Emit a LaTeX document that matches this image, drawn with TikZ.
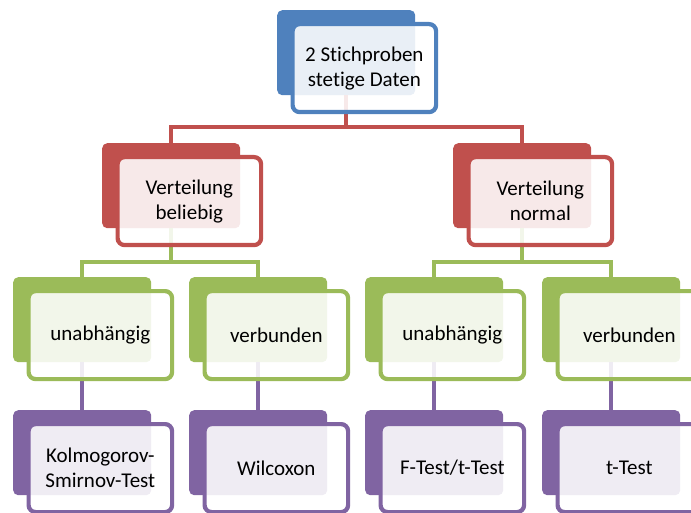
\documentclass[tikz,border=0pt]{standalone}
\usepackage{fontspec}
\setmainfont{Carlito}[Ligatures=NoCommon]
\usepackage{tikz}
\usetikzlibrary{positioning}

\definecolor{ablue}{HTML}{4F81BD}
\definecolor{ared}{HTML}{C0504D}
\definecolor{agreen}{HTML}{9BBB59}
\definecolor{apurple}{HTML}{8064A2}

\begin{document}
\begin{tikzpicture}[x=1pt, y=-1pt, node distance=12pt and 13.5pt,
  back/.style = {fill=#1, rounded corners=5pt, inner sep=0pt, anchor=north west,
                 minimum width=138pt, minimum height=85pt},
  front/.style = {draw=#1, line width=4.2pt, rounded corners=7pt, fill=white,
                  fill opacity=0.88, text opacity=1, align=center, inner sep=0pt,
                  minimum width=143.5pt, minimum height=88pt,
                  font=\fontsize{21}{25}\selectfont},
  link/.style = {draw=#1, line width=4pt}]
\clip (0,0) rectangle (691,513);

% back boxes
\node[back=ablue] (top) at (277,10) {};
\node[back=ared] (bel) at (102,143) {};
\node[back=ared] (nor) at (453,143) {};
\node[back=agreen] (belu) at (13,277) {};
\node[back=agreen] (belv) at (189,277) {};
\node[back=agreen] (noru) at (365,277) {};
\node[back=agreen] (norv) at (542,277) {};
\node[back=apurple] (ks) at (13,410) {};
\node[back=apurple] (wil) at (189,410) {};
\node[back=apurple] (ft) at (365,410) {};
\node[back=apurple] (tt) at (542,410) {};

% connectors
\draw[link=ared] (top.south) -- ++(0,32) -| (bel.north);
\draw[link=ared] (top.south) -- ++(0,32) -| (nor.north);
\draw[link=agreen] (bel.south) -- ++(0,34) -| (belu.north);
\draw[link=agreen] (bel.south) -- ++(0,34) -| (belv.north);
\draw[link=agreen] (nor.south) -- ++(0,34) -| (noru.north);
\draw[link=agreen] (nor.south) -- ++(0,34) -| (norv.north);
\draw[link=apurple] (belu.south) -- (ks.north);
\draw[link=apurple] (belv.south) -- (wil.north);
\draw[link=apurple] (noru.south) -- (ft.north);
\draw[link=apurple] (norv.south) -- (tt.north);

% front boxes
\node[front=ablue, below right=of top.north west] (topf) {2 Stichproben\\stetige Daten};
\node[front=ared, below right=of bel.north west] (belf) {Verteilung\\beliebig};
\node[front=ared, below right=of nor.north west] (norf) {Verteilung\\normal};
\node[front=agreen, below right=of belu.north west] (beluf) {unabhängig};
\node[front=agreen, below right=of belv.north west] (belvf) {verbunden};
\node[front=agreen, below right=of noru.north west] (noruf) {unabhängig};
\node[front=agreen, below right=of norv.north west] (norvf) {verbunden};
\node[front=apurple, below right=of ks.north west] (ksf) {Kolmogorov-\\Smirnov-Test};
\node[front=apurple, below right=of wil.north west] (wilf) {Wilcoxon};
\node[front=apurple, below right=of ft.north west] (ftf) {F-Test/t-Test};
\node[front=apurple, below right=of tt.north west] (ttf) {t-Test};
\end{tikzpicture}
\end{document}
